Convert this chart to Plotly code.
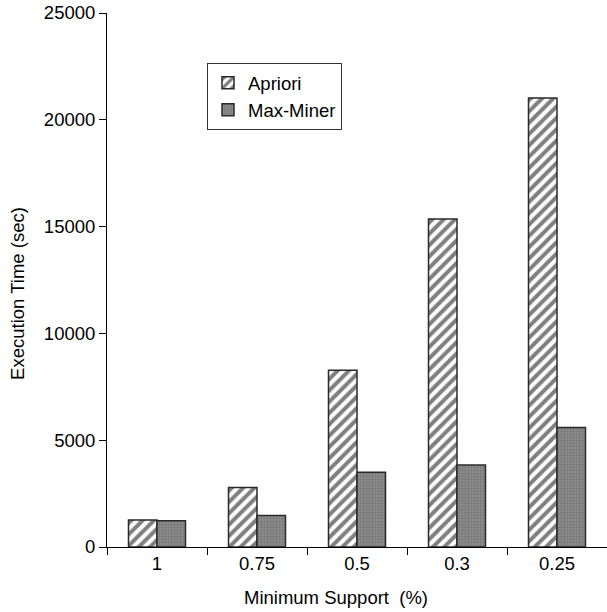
import plotly.graph_objects as go

# Minimum support thresholds (%) and execution times (sec)
support = ["1", "0.75", "0.5", "0.3", "0.25"]
apriori = [1260, 2780, 8280, 15350, 21020]
max_miner = [1230, 1480, 3500, 3840, 5590]

FONT = "Liberation Sans, Arial, Helvetica, sans-serif"
FS = 18.5

fig = go.Figure()

fig.add_trace(go.Bar(
    name="Apriori",
    x=support,
    y=apriori,
    legendgroup="a",
    marker=dict(
        color="white",
        line=dict(color="#2a2a2a", width=1.5),
        pattern=dict(shape="/", fgcolor="#000000", bgcolor="white",
                     size=8, solidity=0.5),
    ),
))

fig.add_trace(go.Bar(
    name="Max-Miner",
    x=support,
    y=max_miner,
    legendgroup="b",
    marker=dict(
        color="#7d7d7d",
        line=dict(color="#2a2a2a", width=1.5),
        pattern=dict(shape=".", fgcolor="#5e5e5e", bgcolor="#8a8a8a",
                     size=3, solidity=0.35),
    ),
))

fig.update_layout(
    width=607,
    height=612,
    margin=dict(l=107, r=0, t=13, b=65),
    paper_bgcolor="white",
    plot_bgcolor="white",
    barmode="group",
    bargap=0.43,
    bargroupgap=0,
    font=dict(family=FONT, size=FS, color="black"),
    showlegend=True,
    legend=dict(
        x=0.2, y=0.906, xanchor="left", yanchor="top",
        bordercolor="#333333", borderwidth=1,
        bgcolor="white",
        font=dict(family=FONT, size=FS),
        tracegroupgap=22,
        traceorder="normal",
    ),
    xaxis=dict(
        type="category",
        showline=True, linecolor="black", linewidth=1,
        ticks="outside", ticklen=7, tickcolor="black",
        tickson="boundaries",
        showgrid=False, zeroline=False,
        tickfont=dict(family=FONT, size=FS),
    ),
    yaxis=dict(
        range=[0, 25000], dtick=5000, tickformat="d",
        showline=True, linecolor="black", linewidth=1,
        ticks="outside", ticklen=7, tickcolor="black",
        showgrid=False, zeroline=False,
        tickfont=dict(family=FONT, size=FS),
    ),
    annotations=[
        dict(text="Minimum Support\u00a0\u00a0(%)", xref="paper", yref="paper",
             x=0.458, y=-0.094, xanchor="center", yanchor="middle",
             showarrow=False, font=dict(family=FONT, size=FS)),
        dict(text="Execution Time (sec)", xref="paper", yref="paper",
             x=-0.178, y=0.474, xanchor="center", yanchor="middle",
             textangle=-90, showarrow=False, font=dict(family=FONT, size=FS)),
    ],
)

fig.write_html("out.html")
